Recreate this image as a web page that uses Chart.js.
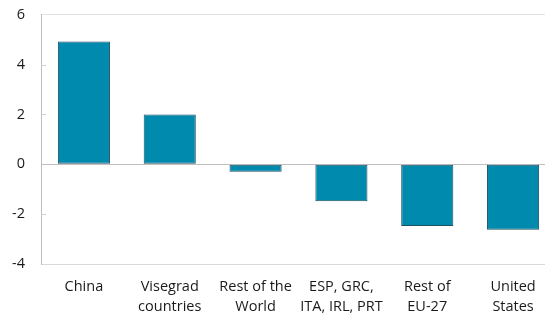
<!DOCTYPE html>
<html>
<head>
<meta charset="utf-8">
<script src="https://cdn.jsdelivr.net/npm/chart.js@4/dist/chart.umd.min.js"></script>
<style>
  html, body { margin: 0; padding: 0; background: #fff; overflow: hidden; width: 545px; height: 316px; }
  #wrap { position: absolute; left: 0; top: -10px; width: 556px; height: 326px; }
</style>
</head>
<body>
<div id="wrap"><canvas id="c" width="556" height="326"></canvas></div>
<script>
const categories = [["China"], ["Visegrad", "countries"], ["Rest of the", "World"], ["ESP, GRC,", "ITA, IRL, PRT"], ["Rest of", "EU-27"], ["United", "States"]];
const values = [4.92, 2.0, -0.3, -1.48, -2.48, -2.63];
const yTicks = [-4, -2, 0, 2, 4, 6];

const innerTicks = {
  id: 'innerTicks',
  afterDatasetsDraw(chart) {
    const ctx = chart.ctx, y = chart.scales.y, left = chart.chartArea.left;
    ctx.save();
    ctx.strokeStyle = '#d0d0d0';
    ctx.lineWidth = 1;
    yTicks.forEach(v => {
      if (v === 0 || v === 6 || v === -4) return;
      const py = Math.round(y.getPixelForValue(v)) + 0.5;
      ctx.beginPath(); ctx.moveTo(left, py); ctx.lineTo(left + 5, py); ctx.stroke();
    });
    ctx.restore();
  }
};

new Chart(document.getElementById('c'), {
  type: 'bar',
  data: {
    labels: categories,
    datasets: [{
      data: values,
      backgroundColor: '#008AAD',
      borderColor: '#1F4E5F',
      borderWidth: 1,
      borderSkipped: false,
      categoryPercentage: 1,
      barPercentage: 0.607
    }]
  },
  options: {
    responsive: false,
    animation: false,
    devicePixelRatio: 1,
    layout: { padding: { top: 6, right: 0, left: 0, bottom: 0 } },
    plugins: { legend: { display: false }, tooltip: { enabled: false } },
    scales: {
      x: {
        grid: { display: false, drawTicks: false },
        border: { display: true, color: '#d9d9d9' },
        ticks: {
          color: '#1a1a1a',
          padding: 13,
          maxRotation: 0,
          autoSkip: false,
          font: { family: 'Open Sans', size: 14.5, lineHeight: 1.38 }
        },
        afterFit(s) { s.height = 52; }
      },
      y: {
        min: -4, max: 6,
        afterBuildTicks(s) { s.ticks = yTicks.map(v => ({ value: v })); },
        grid: {
          drawTicks: false,
          color(ctx) {
            const v = ctx.tick && ctx.tick.value;
            if (v === 0) return '#bfbfbf';
            if (v === 6) return '#e3e3e3';
            if (v === -4) return '#d9d9d9';
            return 'rgba(0,0,0,0)';
          }
        },
        border: { display: true, color: '#bfbfbf' },
        ticks: {
          color: '#1a1a1a',
          padding: 16,
          font: { family: 'Open Sans', size: 14.5 }
        },
        afterFit(s) { s.width = 41; }
      }
    }
  },
  plugins: [innerTicks]
});
</script>
</body>
</html>
